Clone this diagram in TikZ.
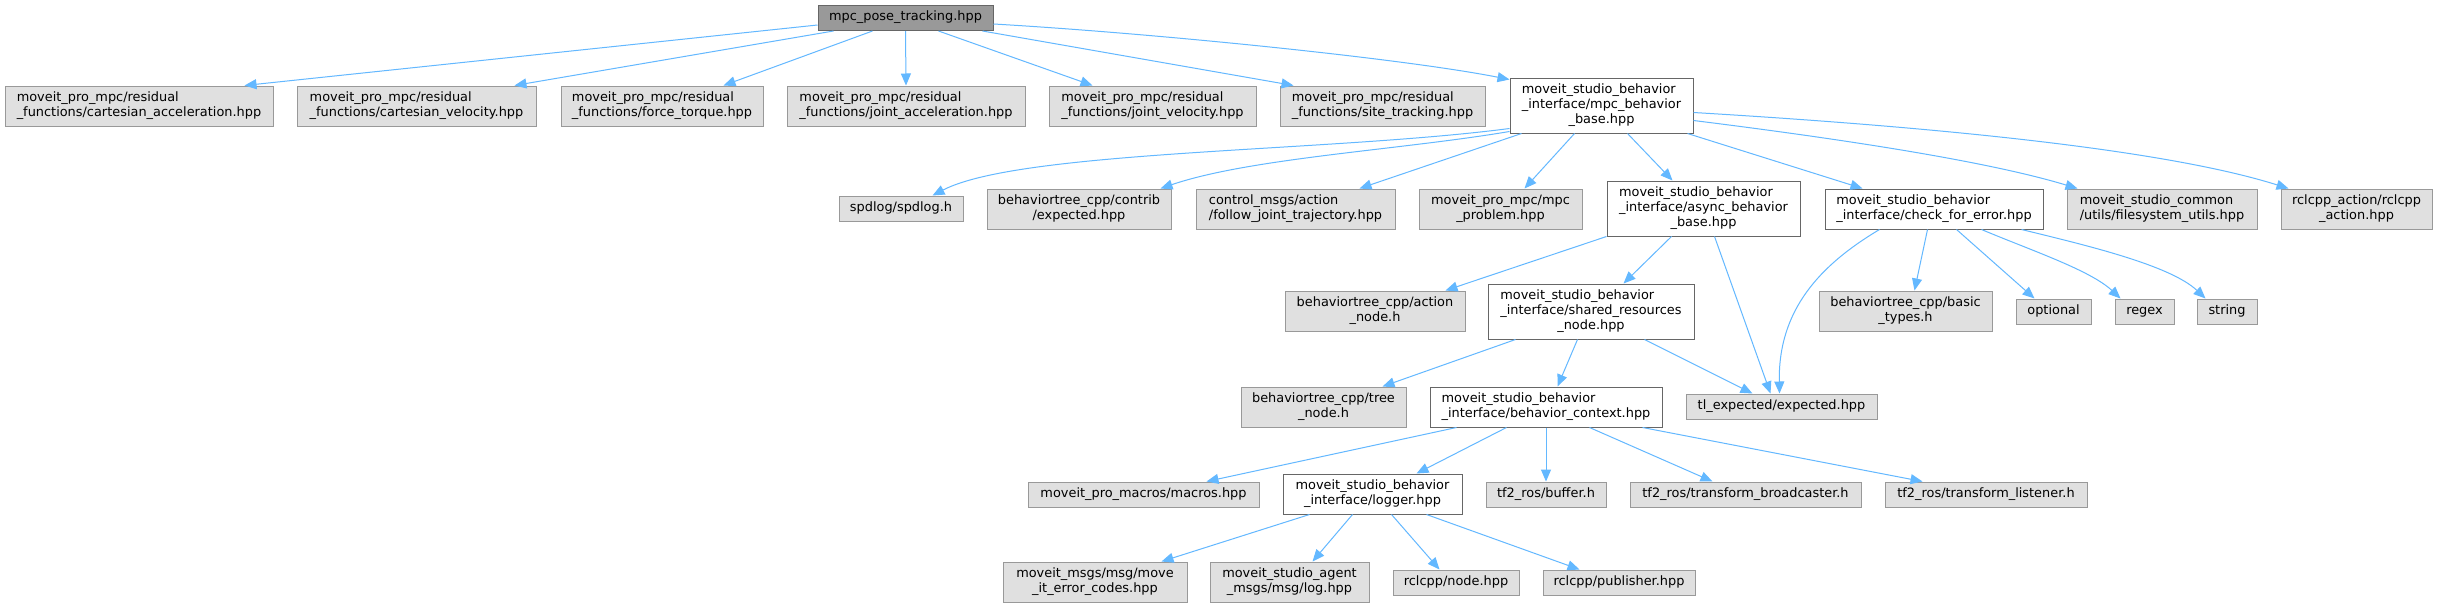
\documentclass[tikz,border=0pt]{standalone}
\usepackage{fontspec}
\setmainfont{DejaVu Sans}
\usetikzlibrary{arrows.meta}
\definecolor{edgec}{HTML}{63B8FF}
\definecolor{gfill}{HTML}{E0E0E0}
\definecolor{gdraw}{HTML}{999999}
\definecolor{wdraw}{HTML}{666666}
\definecolor{rfill}{HTML}{999999}
\newcommand{\labone}[1]{\begin{tabular}{@{}c@{}}#1\end{tabular}}
\newcommand{\labtwo}[2]{\begin{tabular}{@{}l@{}}#1\\\multicolumn{1}{@{}c@{}}{#2}\end{tabular}}
\newcommand{\labthree}[3]{\begin{tabular}{@{}l@{}}#1\\#2\\\multicolumn{1}{@{}c@{}}{#3}\end{tabular}}
\begin{document}
\begin{tikzpicture}[x=1pt,y=-1pt,
  font=\fontsize{12.9}{14.7}\selectfont,
  box/.style={draw,rectangle,inner sep=0pt,line width=1pt,anchor=center},
  gbox/.style={box,fill=gfill,draw=gdraw},
  wbox/.style={box,fill=white,draw=wdraw},
  rbox/.style={box,fill=rfill,draw=wdraw},
  h1/.style={minimum height=25pt},
  h2/.style={minimum height=40pt},
  h3/.style={minimum height=55pt},
  e/.style={draw=edgec,line width=1pt,-{Triangle[length=12pt,width=10pt]}}]
\fill[white] (0,0) rectangle (2437,608);
\useasboundingbox (0,0) rectangle (2437,608);
% row 0
\node[rbox,h1,minimum width=175pt] (root) at (905.5,18) {\labone{mpc\_pose\_tracking.hpp}};
% row 1
\node[gbox,h2,minimum width=268pt] (ca) at (139,106) {\labtwo{moveit\_pro\_mpc/residual}{\_functions/cartesian\_acceleration.hpp}};
\node[gbox,h2,minimum width=239pt] (cv) at (416.5,106) {\labtwo{moveit\_pro\_mpc/residual}{\_functions/cartesian\_velocity.hpp}};
\node[gbox,h2,minimum width=202pt] (ft) at (662,106) {\labtwo{moveit\_pro\_mpc/residual}{\_functions/force\_torque.hpp}};
\node[gbox,h2,minimum width=238pt] (ja) at (906,106) {\labtwo{moveit\_pro\_mpc/residual}{\_functions/joint\_acceleration.hpp}};
\node[gbox,h2,minimum width=207pt] (jv) at (1152.5,106) {\labtwo{moveit\_pro\_mpc/residual}{\_functions/joint\_velocity.hpp}};
\node[gbox,h2,minimum width=205pt] (st) at (1382.5,106) {\labtwo{moveit\_pro\_mpc/residual}{\_functions/site\_tracking.hpp}};
\node[wbox,h3,minimum width=183pt] (mbb) at (1601.5,105.5) {\labthree{moveit\_studio\_behavior}{\_interface/mpc\_behavior}{\_base.hpp}};
% row 2
\node[gbox,h1,minimum width=124pt] (spd) at (901,208.5) {\labone{spdlog/spdlog.h}};
\node[gbox,h2,minimum width=184pt] (bexp) at (1079,209) {\labtwo{behaviortree\_cpp/contrib}{/expected.hpp}};
\node[gbox,h2,minimum width=199pt] (ctl) at (1295.5,209) {\labtwo{control\_msgs/action}{/follow\_joint\_trajectory.hpp}};
\node[gbox,h2,minimum width=163pt] (mpcp) at (1500.5,209) {\labtwo{moveit\_pro\_mpc/mpc}{\_problem.hpp}};
\node[wbox,h3,minimum width=193pt] (async) at (1703.5,208.5) {\labthree{moveit\_studio\_behavior}{\_interface/async\_behavior}{\_base.hpp}};
\node[wbox,h2,minimum width=218pt] (cfe) at (1934,209) {\labtwo{moveit\_studio\_behavior}{\_interface/check\_for\_error.hpp}};
\node[gbox,h2,minimum width=190pt] (fsu) at (2162,209) {\labtwo{moveit\_studio\_common}{/utils/filesystem\_utils.hpp}};
\node[gbox,h2,minimum width=151pt] (rca) at (2356.5,209) {\labtwo{rclcpp\_action/rclcpp}{\_action.hpp}};
% row 3
\node[gbox,h2,minimum width=180pt] (actn) at (1375,311) {\labtwo{behaviortree\_cpp/action}{\_node.h}};
\node[wbox,h3,minimum width=206pt] (shr) at (1591,311.5) {\labthree{moveit\_studio\_behavior}{\_interface/shared\_resources}{\_node.hpp}};
\node[gbox,h2,minimum width=173pt] (bt) at (1905.5,311) {\labtwo{behaviortree\_cpp/basic}{\_types.h}};
\node[gbox,h1,minimum width=75pt] (opt) at (2053.5,311.5) {\labone{optional}};
\node[gbox,h1,minimum width=59pt] (rgx) at (2144.5,311.5) {\labone{regex}};
\node[gbox,h1,minimum width=60pt] (str) at (2227,311.5) {\labone{string}};
% row 4
\node[gbox,h2,minimum width=165pt] (tree) at (1323.5,407) {\labtwo{behaviortree\_cpp/tree}{\_node.h}};
\node[wbox,h2,minimum width=232pt] (bc) at (1546,407) {\labtwo{moveit\_studio\_behavior}{\_interface/behavior\_context.hpp}};
\node[gbox,h1,minimum width=191pt] (tl) at (1781.5,406.5) {\labone{tl\_expected/expected.hpp}};
% row 5
\node[gbox,h1,minimum width=231pt] (mac) at (1143.5,494.5) {\labone{moveit\_pro\_macros/macros.hpp}};
\node[wbox,h2,minimum width=179pt] (lg) at (1372.5,494) {\labtwo{moveit\_studio\_behavior}{\_interface/logger.hpp}};
\node[gbox,h1,minimum width=120pt] (buf) at (1546,494.5) {\labone{tf2\_ros/buffer.h}};
\node[gbox,h1,minimum width=231pt] (tbc) at (1745.5,494.5) {\labone{tf2\_ros/transform\_broadcaster.h}};
\node[gbox,h1,minimum width=202pt] (tli) at (1986,494.5) {\labone{tf2\_ros/transform\_listener.h}};
% row 6
\node[gbox,h2,minimum width=184pt] (mec) at (1095,582) {\labtwo{moveit\_msgs/msg/move}{\_it\_error\_codes.hpp}};
\node[gbox,h2,minimum width=159pt] (lgm) at (1289.5,582) {\labtwo{moveit\_studio\_agent}{\_msgs/msg/log.hpp}};
\node[gbox,h1,minimum width=126pt] (rn) at (1456,582.5) {\labone{rclcpp/node.hpp}};
\node[gbox,h1,minimum width=152pt] (rp) at (1619,582.5) {\labone{rclcpp/publisher.hpp}};
% edges from root
\draw[e] ([yshift=-7pt]root.west) -- ([xshift=240pt]ca.north west);
\draw[e] ([xshift=16pt]root.south west) -- ([xshift=218pt]cv.north west);
\draw[e] ([xshift=55pt]root.south west) -- ([xshift=163pt]ft.north west);
\draw[e] (root.south) -- (ja.north);
\draw[e] ([xshift=121pt]root.south west) -- ([xshift=44pt]jv.north west);
\draw[e] ([xshift=165pt]root.south west) -- ([xshift=14pt]st.north west);
\draw[e] ([yshift=-6pt]root.east) .. controls (1150,33) and (1400,58) .. ([yshift=-2pt]mbb.north west);
% edges from mpc_behavior_base
\draw[e] ([yshift=5pt]mbb.south west) .. controls (1330,152) and (1020,150) .. ([xshift=94pt]spd.north west);
\draw[e] ([yshift=2pt]mbb.south west) .. controls (1400,150) and (1250,158) .. ([xshift=174pt]bexp.north west);
\draw[e] ([xshift=12pt]mbb.south west) -- ([xshift=164pt]ctl.north west);
\draw[e] ([xshift=65pt]mbb.south west) -- ([xshift=106pt]mpcp.north west);
\draw[e] ([xshift=118pt]mbb.south west) -- ([xshift=66pt]async.north west);
\draw[e] ([xshift=178pt]mbb.south west) -- ([xshift=38pt]cfe.north west);
\draw[e] ([yshift=13pt]mbb.south east) .. controls (1850,140) and (1990,162) .. ([xshift=11pt]fsu.north west);
\draw[e] ([yshift=21pt]mbb.south east) .. controls (1920,126) and (2160,148) .. ([xshift=8pt]rca.north west);
% edges from async
\draw[e] (async.south west) -- ([xshift=161pt]actn.north west);
\draw[e] ([xshift=65pt]async.south west) -- ([xshift=136pt]shr.north west);
\draw[e] ([xshift=108pt]async.south west) -- ([xshift=85pt]tl.north west);
% edges from check_for_error
\draw[e] ([xshift=55pt]cfe.south west) .. controls (1820,265) and (1778,310) .. ([xshift=94pt]tl.north west);
\draw[e] ([xshift=103pt]cfe.south west) -- ([xshift=96pt]bt.north west);
\draw[e] ([xshift=132pt]cfe.south west) -- ([xshift=19pt]opt.north west);
\draw[e] ([xshift=157pt]cfe.south west) .. controls (2030,250) and (2090,270) .. ([xshift=6pt]rgx.north west);
\draw[e] ([xshift=197pt]cfe.south west) .. controls (2085,245) and (2170,265) .. ([xshift=9pt]str.north west);
% edges from shared_resources
\draw[e] ([xshift=28pt]shr.south west) -- ([xshift=142pt]tree.north west);
\draw[e] ([xshift=90pt]shr.south west) -- ([xshift=128pt]bc.north west);
\draw[e] ([xshift=157pt]shr.south west) -- ([xshift=67pt]tl.north west);
% edges from behavior_context
\draw[e] ([xshift=27pt]bc.south west) -- ([xshift=179pt]mac.north west);
\draw[e] ([xshift=77pt]bc.south west) -- ([xshift=134pt]lg.north west);
\draw[e] (bc.south) -- (buf.north);
\draw[e] ([xshift=160pt]bc.south west) -- ([xshift=83pt]tbc.north west);
\draw[e] ([xshift=213pt]bc.south west) -- ([xshift=38pt]tli.north west);
% edges from logger
\draw[e] ([xshift=27pt]lg.south west) -- ([xshift=159pt]mec.north west);
\draw[e] ([xshift=70pt]lg.south west) -- ([xshift=103pt]lgm.north west);
\draw[e] ([xshift=109pt]lg.south west) -- ([xshift=47pt]rn.north west);
\draw[e] ([xshift=144pt]lg.south west) -- ([xshift=37pt]rp.north west);
\end{tikzpicture}
\end{document}
